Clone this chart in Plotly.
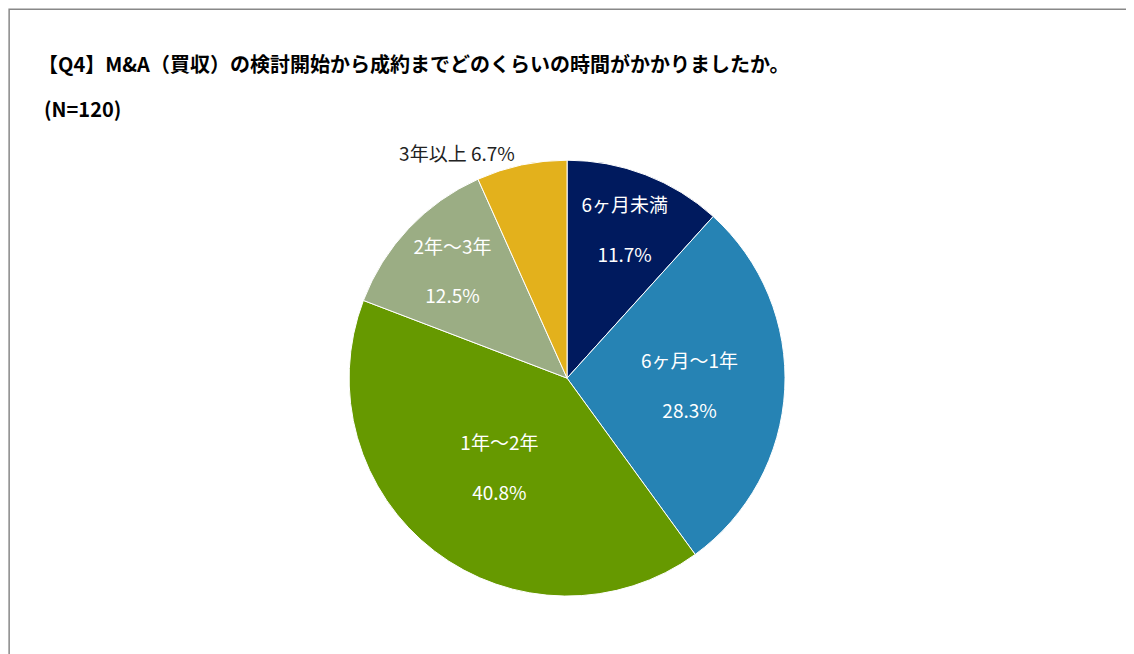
import plotly.graph_objects as go

labels = ["6ヶ月未満", "6ヶ月～1年", "1年～2年", "2年～3年", "3年以上"]
values = [11.7, 28.3, 40.8, 12.5, 6.7]
colors = ["#001A5E", "#2683B4", "#669900", "#9BAD84", "#E3B11C"]
positions = ["inside", "inside", "inside", "inside", "outside"]
templates = ["%{label}<br> <br>%{value:.1f}%"] * 4 + ["%{label} %{value:.1f}%"]
text_colors = ["white", "white", "white", "white", "#222222"]

fig = go.Figure(go.Pie(
    labels=labels, values=values, sort=False, direction="clockwise", rotation=0,
    marker=dict(colors=colors, line=dict(color="white", width=1)),
    textposition=positions, texttemplate=templates,
    textfont=dict(size=19, color=text_colors, family="Noto Sans CJK JP"),
    insidetextorientation="horizontal",
    domain=dict(x=[0.3008, 0.6852], y=[0.1007, 0.7674]),
    showlegend=False, hoverinfo="label+percent",
))
fig.update_layout(
    width=1134, height=654, margin=dict(l=0, r=0, t=0, b=0),
    paper_bgcolor="white", plot_bgcolor="white",
    font=dict(family="Noto Sans CJK JP"),
    shapes=[dict(type="rect", xref="paper", yref="paper", x0=0.001, y0=0.004, x1=0.993, y1=0.998,
                 line=dict(color="#888888", width=1.5))],
    annotations=[
        dict(text="<b>【Q4】M&A（買収）の検討開始から成約までどのくらいの時間がかかりましたか。</b>",
             xref="paper", yref="paper", x=0.025, y=0.915, xanchor="left", yanchor="middle",
             showarrow=False, font=dict(size=20, color="#000000")),
        dict(text="<b>(N=120)</b>",
             xref="paper", yref="paper", x=0.03, y=0.847, xanchor="left", yanchor="middle",
             showarrow=False, font=dict(size=20, color="#000000")),
    ],
)
fig.write_html("out.html")
